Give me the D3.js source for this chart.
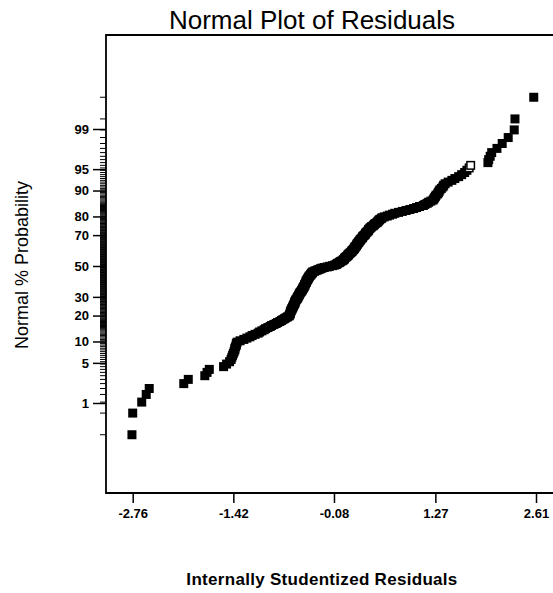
<!DOCTYPE html>
<html>
<head>
<meta charset="utf-8">
<script src="https://cdn.jsdelivr.net/npm/d3@7"></script>
<style>
  body { margin: 0; background: #fff; }
  svg { font-family: "Liberation Sans", Arial, sans-serif; }
</style>
</head>
<body>
<div id="container"></div>
<script>
let w = 553;
let h = 593;

// DATA - sorted internally studentized residuals
let residuals = [
  -2.77, -2.76, -2.64, -2.58, -2.54, -2.08, -2.02, -1.80, -1.77, -1.74,
  -1.55, -1.51, -1.47, -1.45, -1.44, -1.43, -1.42, -1.41, -1.40, -1.40,
  -1.39, -1.38, -1.38, -1.37, -1.33, -1.28, -1.24, -1.20, -1.17, -1.13,
  -1.09, -1.07, -1.04, -1.01, -0.99, -0.96, -0.93, -0.91, -0.88, -0.85,
  -0.83, -0.80, -0.78, -0.76, -0.74, -0.72, -0.70, -0.68, -0.67, -0.67,
  -0.66, -0.66, -0.66, -0.65, -0.65, -0.64, -0.64, -0.63, -0.63, -0.62,
  -0.62, -0.61, -0.61, -0.60, -0.60, -0.60, -0.59, -0.59, -0.58, -0.57,
  -0.57, -0.56, -0.56, -0.55, -0.55, -0.54, -0.54, -0.53, -0.53, -0.52,
  -0.51, -0.51, -0.50, -0.50, -0.49, -0.49, -0.48, -0.48, -0.47, -0.47,
  -0.47, -0.46, -0.46, -0.45, -0.45, -0.45, -0.44, -0.44, -0.43, -0.43,
  -0.42, -0.42, -0.41, -0.41, -0.40, -0.39, -0.39, -0.38, -0.37, -0.37,
  -0.36, -0.34, -0.32, -0.30, -0.28, -0.26, -0.24, -0.21, -0.17, -0.14,
  -0.10, -0.07, -0.05, -0.04, -0.03, -0.01, 0.00, 0.01, 0.03, 0.04,
  0.05, 0.06, 0.06, 0.07, 0.08, 0.09, 0.10, 0.11, 0.11, 0.12,
  0.13, 0.14, 0.15, 0.16, 0.16, 0.17, 0.18, 0.19, 0.19, 0.20,
  0.20, 0.21, 0.22, 0.22, 0.23, 0.23, 0.24, 0.25, 0.25, 0.26,
  0.27, 0.27, 0.28, 0.29, 0.30, 0.30, 0.31, 0.32, 0.33, 0.34,
  0.34, 0.35, 0.36, 0.37, 0.38, 0.38, 0.39, 0.40, 0.41, 0.42,
  0.44, 0.45, 0.46, 0.47, 0.49, 0.50, 0.51, 0.52, 0.53, 0.55,
  0.56, 0.59, 0.63, 0.66, 0.70, 0.73, 0.78, 0.83, 0.88, 0.93,
  0.98, 1.02, 1.06, 1.11, 1.13, 1.16, 1.18, 1.21, 1.24, 1.25,
  1.26, 1.27, 1.28, 1.30, 1.31, 1.32, 1.33, 1.35, 1.37, 1.38,
  1.40, 1.44, 1.49, 1.53, 1.58, 1.62, 1.66, 1.69, 1.72, 1.74,
  1.97, 1.98, 2.00, 2.02, 2.09, 2.16, 2.24, 2.32, 2.33, 2.58
];
// ranks drawn as open squares
let hollowRanks = [229, 230];
let xTicks = [-2.76, -1.42, -0.08, 1.27, 2.61];
let yTicks = [1, 5, 10, 20, 30, 50, 70, 80, 90, 95, 99];

// inverse normal cdf (Acklam)
function probit(p) {
  let a = [-3.969683028665376e+01, 2.209460984245205e+02, -2.759285104469687e+02, 1.383577518672690e+02, -3.066479806614716e+01, 2.506628277459239e+00];
  let b = [-5.447609879822406e+01, 1.615858368580409e+02, -1.556989798598866e+02, 6.680131188771972e+01, -1.328068155288572e+01];
  let c = [-7.784894002430293e-03, -3.223964580411365e-01, -2.400758277161838e+00, -2.549732539343734e+00, 4.374664141464968e+00, 2.938163982698783e+00];
  let d = [7.784695709041462e-03, 3.224671290700398e-01, 2.445134137142996e+00, 3.754408661907416e+00];
  let pl = 0.02425, q, r;
  if (p < pl) {
    q = Math.sqrt(-2 * Math.log(p));
    return (((((c[0]*q+c[1])*q+c[2])*q+c[3])*q+c[4])*q+c[5]) / ((((d[0]*q+d[1])*q+d[2])*q+d[3])*q+1);
  }
  if (p > 1 - pl) {
    q = Math.sqrt(-2 * Math.log(1 - p));
    return -(((((c[0]*q+c[1])*q+c[2])*q+c[3])*q+c[4])*q+c[5]) / ((((d[0]*q+d[1])*q+d[2])*q+d[3])*q+1);
  }
  q = p - 0.5; r = q * q;
  return (((((a[0]*r+a[1])*r+a[2])*r+a[3])*r+a[4])*r+a[5])*q / (((((b[0]*r+b[1])*r+b[2])*r+b[3])*r+b[4])*r+1);
}

let n = residuals.length;
let points = residuals.map(function(r, i) {
  return { r: r, rank: i + 1, z: probit((i + 0.5) / n) };
});

// layout
let plotLeft = 106, plotTop = 35, plotBottom = 493, plotRight = 560;

let viz = d3.select("#container").append("svg")
    .attr("width", w)
    .attr("height", h)
    .style("background-color", "white");

// SCALES
let xScale = d3.scaleLinear().domain([-2.76, 2.61]).range([132.7, 536]);
let yScale = d3.scaleLinear().domain([probit(0.01), probit(0.99)]).range([403, 129]);

// title
viz.append("text")
    .attr("x", 312).attr("y", 29)
    .attr("text-anchor", "middle")
    .style("font-size", "26px")
    .text("Normal Plot of Residuals");

// frame
viz.append("path")
    .attr("d", "M" + plotRight + "," + plotTop + "H" + plotLeft + "V" + plotBottom + "H" + plotRight)
    .attr("fill", "none")
    .attr("stroke", "black")
    .attr("stroke-width", 1.8);

// rug ticks on the probability axis
viz.selectAll(".rug").data(points).enter()
  .append("line")
    .attr("class", "rug")
    .attr("x1", plotLeft - 6).attr("x2", plotLeft)
    .attr("y1", function(d) { return yScale(d.z); })
    .attr("y2", function(d) { return yScale(d.z); })
    .attr("stroke", "black")
    .attr("stroke-width", 1);

// AXES
let yAxis = d3.axisLeft(yScale)
    .tickValues(yTicks.map(function(v) { return probit(v / 100); }))
    .tickFormat(function(d, i) { return yTicks[i]; })
    .tickSize(13)
    .tickPadding(4);
let gy = viz.append("g").attr("transform", "translate(" + plotLeft + ",0)").call(yAxis);
gy.select(".domain").remove();

let xAxis = d3.axisBottom(xScale)
    .tickValues(xTicks)
    .tickFormat(function(d) { return d.toFixed(2); })
    .tickSize(10)
    .tickPadding(6);
let gx = viz.append("g").attr("transform", "translate(0," + plotBottom + ")").call(xAxis);
gx.select(".domain").remove();

viz.selectAll(".tick line").attr("stroke", "black").attr("stroke-width", 1.5);
viz.selectAll(".tick text")
    .attr("fill", "black")
    .style("font-size", "13px")
    .style("font-weight", "bold")
    .style("font-family", "'Liberation Sans', Arial, sans-serif");

// POINTS
let sq = 9;
viz.selectAll(".pt").data(points.filter(function(d) { return hollowRanks.indexOf(d.rank) < 0; })).enter()
  .append("rect")
    .attr("class", "pt")
    .attr("x", function(d) { return xScale(d.r) - sq / 2; })
    .attr("y", function(d) { return yScale(d.z) - sq / 2; })
    .attr("width", sq).attr("height", sq)
    .attr("fill", "black");

viz.selectAll(".hollow").data(points.filter(function(d) { return hollowRanks.indexOf(d.rank) >= 0; })).enter()
  .append("rect")
    .attr("class", "hollow")
    .attr("x", function(d) { return xScale(d.r) - sq / 2 + 0.75; })
    .attr("y", function(d) { return yScale(d.z) - sq / 2 + 0.75; })
    .attr("width", sq - 1.5).attr("height", sq - 1.5)
    .attr("fill", "white")
    .attr("stroke", "black")
    .attr("stroke-width", 1.5);

// axis titles
viz.append("text")
    .attr("transform", "translate(28,265) rotate(-90)")
    .attr("text-anchor", "middle")
    .style("font-size", "18px")
    .text("Normal % Probability");

viz.append("text")
    .attr("x", 322).attr("y", 585)
    .attr("text-anchor", "middle")
    .style("font-size", "17px")
    .style("font-weight", "bold")
    .style("letter-spacing", "0.3px")
    .text("Internally Studentized Residuals");
</script>
</body>
</html>
